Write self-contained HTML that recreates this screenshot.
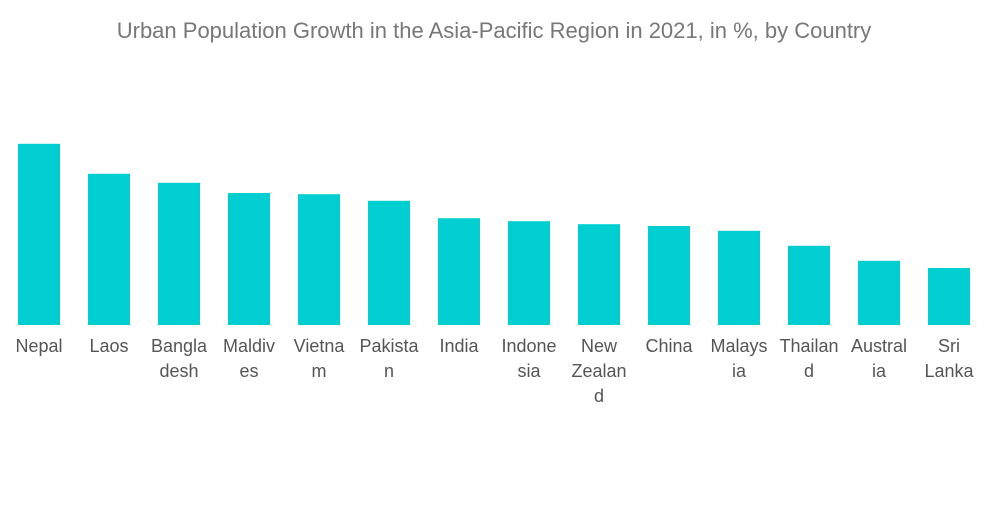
<!DOCTYPE html>
<html><head><meta charset="utf-8">
<style>
html,body{margin:0;padding:0;background:#fff;}
body{width:1000px;height:504px;overflow:hidden;font-family:"Liberation Sans",sans-serif;}
</style></head>
<body>
<svg id="chart" width="1000" height="504" xmlns="http://www.w3.org/2000/svg">
<text x="494" y="38" text-anchor="middle" font-size="22" fill="#777" font-family="Liberation Sans, sans-serif">Urban Population Growth in the Asia-Pacific Region in 2021, in %, by Country</text>
<g id="bars"></g><g id="labels"></g>
</svg>
<script>
const categories = ["Nepal","Laos","Bangladesh","Maldives","Vietnam","Pakistan","India","Indonesia","New Zealand","China","Malaysia","Thailand","Australia","Sri Lanka"];
const labelLines = [["Nepal"],["Laos"],["Bangla","desh"],["Maldiv","es"],["Vietna","m"],["Pakista","n"],["India"],["Indone","sia"],["New","Zealan","d"],["China"],["Malays","ia"],["Thailan","d"],["Austral","ia"],["Sri","Lanka"]];
const values = [3.02,2.52,2.37,2.2,2.18,2.07,1.78,1.73,1.68,1.65,1.57,1.32,1.07,0.95];
const baseY = 325, pxPerUnit = 60, bandStart = 4, band = 70, barW = 42;
const y = v => baseY - v * pxPerUnit;
const x = i => bandStart + i * band + (band - barW) / 2;
const NS = "http://www.w3.org/2000/svg";
const gb = document.getElementById("bars"), gl = document.getElementById("labels");
values.forEach((v, i) => {
  const r = document.createElementNS(NS, "rect");
  
  
  r.setAttribute("x", x(i)); r.setAttribute("y", y(v));
  r.setAttribute("width", barW); r.setAttribute("height", baseY - y(v));
  r.setAttribute("fill", "#00ced1");
  gb.appendChild(r);
  const t = document.createElementNS(NS, "text");
  
  
  t.setAttribute("text-anchor", "middle"); t.setAttribute("font-size", "18");
  t.setAttribute("fill", "#555");
  labelLines[i].forEach((ln, j) => {
    const s = document.createElementNS(NS, "tspan");
    s.setAttribute("x", x(i) + barW / 2);
    s.setAttribute("y", 352 + j * 25);
    s.textContent = ln;
    t.appendChild(s);
  });
  gl.appendChild(t);
});
</script>
</body></html>
